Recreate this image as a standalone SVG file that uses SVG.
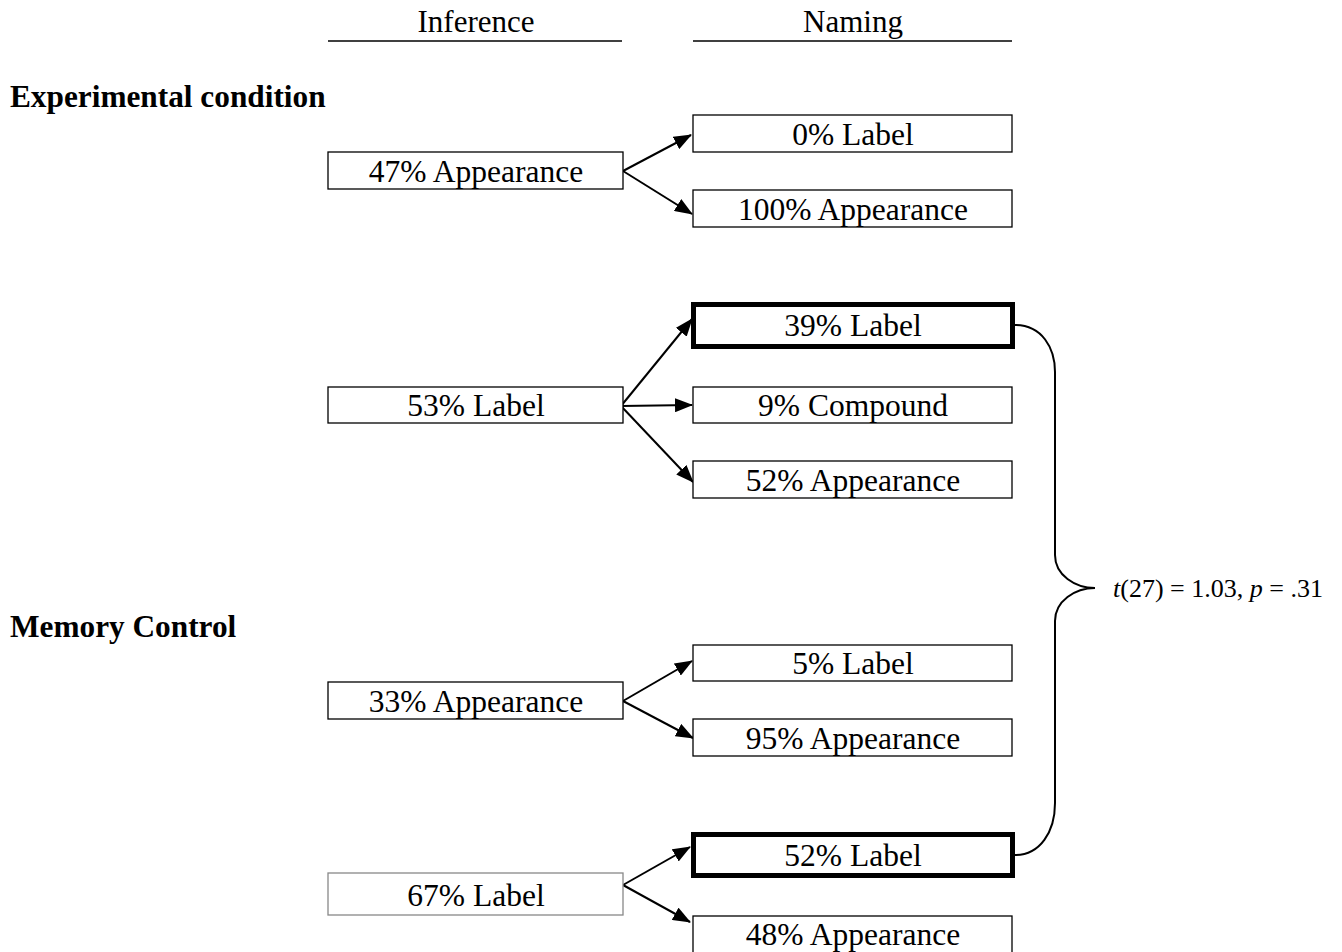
<svg xmlns="http://www.w3.org/2000/svg" width="1342" height="952" viewBox="0 0 1342 952">
<style>
text{font-family:"Liberation Serif","Times New Roman",serif;fill:#000}
.t{font-size:31.5px;text-anchor:middle}
.h{font-size:31px;text-anchor:middle}
.b{font-size:31.3px;font-weight:bold}
.box{fill:#fff;stroke:#000;stroke-width:1.3}
.thick{fill:#fff;stroke:#000;stroke-width:5}
.light{fill:#fff;stroke:#888;stroke-width:1.3}
.c{stroke:#000;stroke-width:2;fill:none}
</style>
<defs>
<marker id="ah" markerWidth="18" markerHeight="14" refX="17" refY="7" orient="auto" markerUnits="userSpaceOnUse" viewBox="0 0 18 14">
<path d="M0,0 L18,7 L0,14 Z" fill="#000"/>
</marker>
</defs>
<rect width="1342" height="952" fill="#fff"/>
<g id="headers">
<text class="h" x="476" y="32">Inference</text>
<line x1="328" y1="41" x2="622" y2="41" stroke="#000" stroke-width="1.5"/>
<text class="h" x="853" y="32">Naming</text>
<line x1="693" y1="41" x2="1012" y2="41" stroke="#000" stroke-width="1.5"/>
<text class="b" x="10" y="107">Experimental condition</text>
<text class="b" x="10" y="637">Memory Control</text>
</g>
<g id="connectors">
<g class="c">
<path d="M623,171 L691,135" marker-end="url(#ah)"/>
<path d="M623,171 L692,214" marker-end="url(#ah)"/>
<path d="M621,406 L692,319" marker-end="url(#ah)"/>
<path d="M621,406 L692,405" marker-end="url(#ah)"/>
<path d="M621,406 L693,482" marker-end="url(#ah)"/>
<path d="M623,701 L692,661" marker-end="url(#ah)"/>
<path d="M623,701 L693,738" marker-end="url(#ah)"/>
<path d="M623,885 L690,847" marker-end="url(#ah)"/>
<path d="M623,885 L690,922" marker-end="url(#ah)"/>
</g>
<path class="c" d="M1015,325 C1042,325 1055,348 1055,372 L1055,555 C1055,575 1075,588 1095,588 C1075,588 1055,601 1055,621 L1055,803 C1055,832 1040,855 1015,855"/>
</g>
<g id="n47"><rect class="box" x="328" y="152" width="295" height="37"/><text class="t" x="476" y="182">47% Appearance</text></g>
<g id="n53"><rect class="box" x="328" y="387" width="295" height="36"/><text class="t" x="476" y="416">53% Label</text></g>
<g id="n33"><rect class="box" x="328" y="682" width="295" height="37"/><text class="t" x="476" y="712">33% Appearance</text></g>
<g id="n67"><rect class="light" x="328" y="873" width="295" height="42"/><text class="t" x="476" y="906">67% Label</text></g>
<g id="r0"><rect class="box" x="693" y="115" width="319" height="37"/><text class="t" x="853" y="145">0% Label</text></g>
<g id="r100"><rect class="box" x="693" y="190" width="319" height="37"/><text class="t" x="853" y="220">100% Appearance</text></g>
<g id="r39"><rect class="thick" x="693.5" y="304.5" width="319" height="42"/><text class="t" x="853" y="336">39% Label</text></g>
<g id="r9"><rect class="box" x="693" y="387" width="319" height="36"/><text class="t" x="853" y="416">9% Compound</text></g>
<g id="r52a"><rect class="box" x="693" y="461" width="319" height="37"/><text class="t" x="853" y="491">52% Appearance</text></g>
<g id="r5"><rect class="box" x="693" y="645" width="319" height="36"/><text class="t" x="853" y="674">5% Label</text></g>
<g id="r95"><rect class="box" x="693" y="719" width="319" height="37"/><text class="t" x="853" y="749">95% Appearance</text></g>
<g id="r52l"><rect class="thick" x="693.5" y="834.5" width="319" height="41"/><text class="t" x="853" y="866">52% Label</text></g>
<g id="r48"><rect class="box" x="693" y="916" width="319" height="50"/><text class="t" x="853" y="945">48% Appearance</text></g>
<g id="stat"><text x="1113" y="597" style="font-size:26px"><tspan font-style="italic">t</tspan>(27) = 1.03, <tspan font-style="italic">p</tspan> = .31</text></g>
</svg>
